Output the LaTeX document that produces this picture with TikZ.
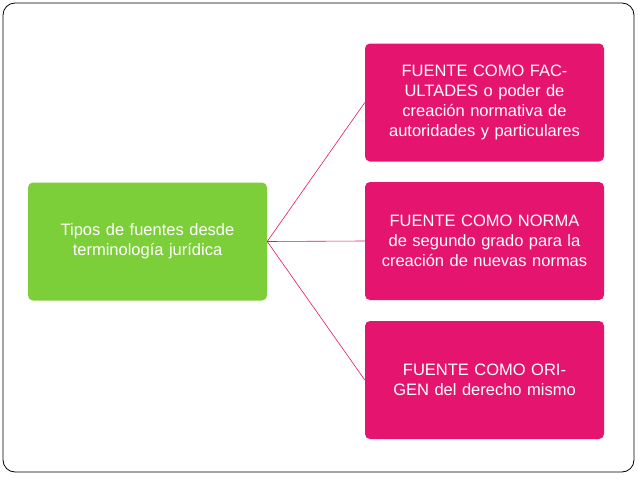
\documentclass[tikz,border=0pt]{standalone}
\usepackage{fontspec}
\setmainfont{Liberation Sans}
\definecolor{gr}{HTML}{7DCF3A}
\definecolor{pk}{HTML}{E5146F}
\begin{document}
\begin{tikzpicture}[x=1pt,y=-1pt,
  box/.style={rounded corners=5pt,minimum width=239pt,minimum height=118pt,text width=225pt,align=center,text=white,font=\fontsize{16.5}{20}\selectfont,inner sep=0pt},
  con/.style={pk,line width=0.6pt}]
\useasboundingbox (0,0) rectangle (638,479);
\draw[rounded corners=12pt,line width=0.8pt] (3,3) rectangle (634,472);
\node[box,fill=gr] (g) at (147.5,241.5) {Tipos de fuentes desde terminología jurídica};
\node[box,fill=pk,text width=215pt] (p1) at (484.5,102.5) {FUENTE COMO FACULTADES o poder de creación normativa de autoridades y particulares};
\node[box,fill=pk,text width=215pt] (p2) at (484.5,241) {FUENTE COMO NORMA de segundo grado para la creación de nuevas normas};
\node[box,fill=pk,text width=215pt] (p3) at (484.5,380) {FUENTE COMO ORIGEN del derecho mismo};
\draw[con] (g.east) -- (p1.west);
\draw[con] (g.east) -- (p2.west);
\draw[con] (g.east) -- (p3.west);
\end{tikzpicture}
\end{document}
